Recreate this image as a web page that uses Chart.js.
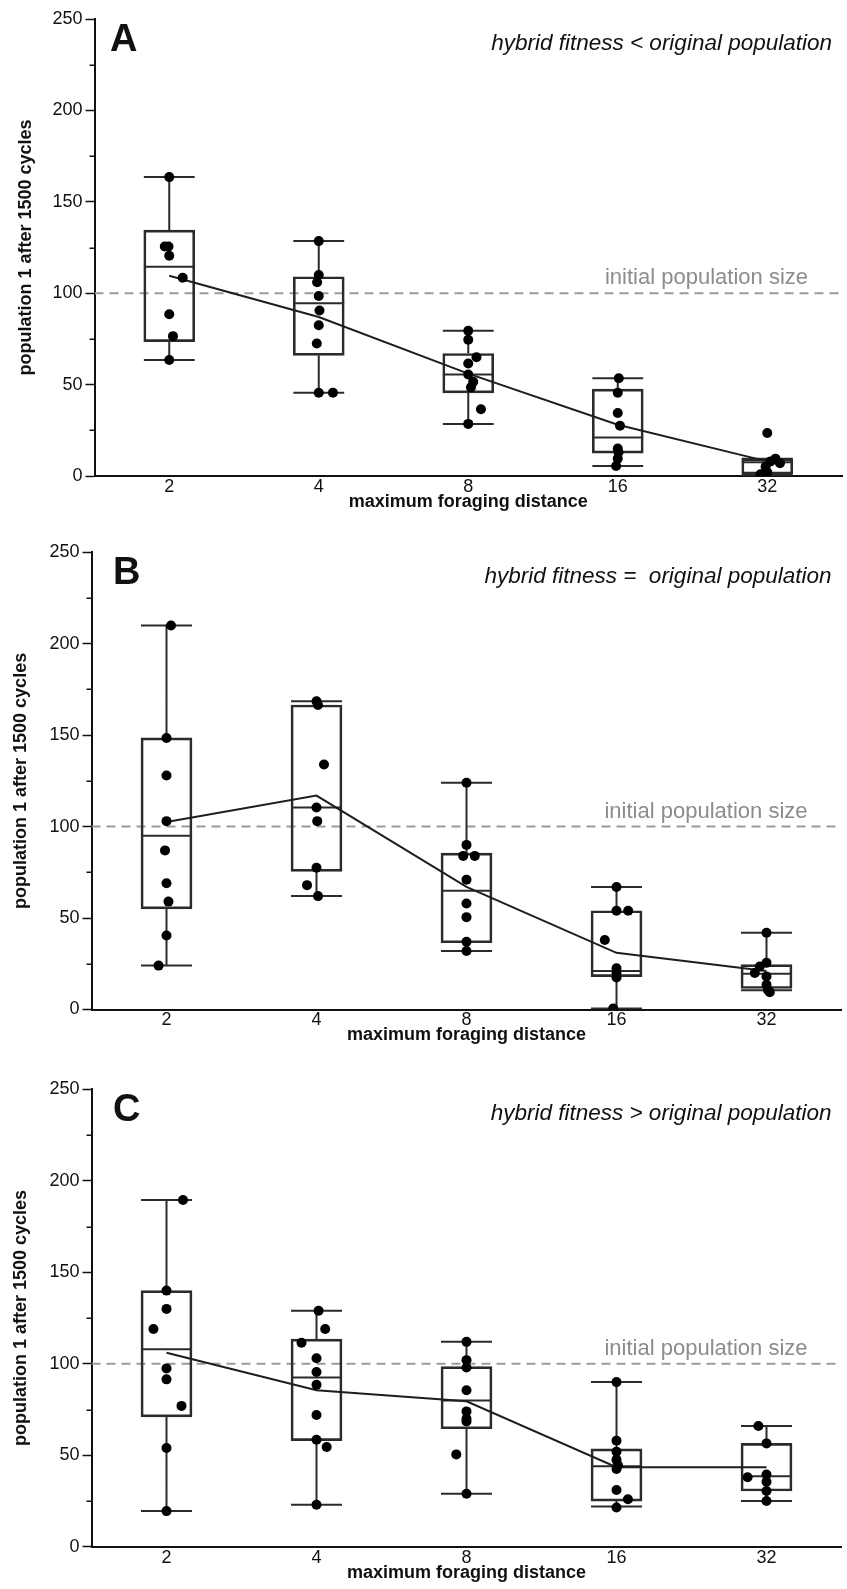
<!DOCTYPE html>
<html>
<head>
<meta charset="utf-8">
<title>Population 1 after 1500 cycles</title>
<script src="https://cdn.jsdelivr.net/npm/chart.js@4.4.1/dist/chart.umd.min.js"></script>
<style>
  html, body { margin: 0; padding: 0; background: #fff; }
  canvas { display: block; }
</style>
</head>
<body>
<canvas id="chartA" width="847" height="530"></canvas>
<canvas id="chartB" width="847" height="534"></canvas>
<canvas id="chartC" width="847" height="525"></canvas>
<script>
// ---- data ----
const distances = ['2', '4', '8', '16', '32'];
const yTickValues = [0, 25, 50, 75, 100, 125, 150, 175, 200, 225, 250];
const yLabelled = [0, 50, 100, 150, 200, 250];
const initialPopulation = 100;

// A: hybrid fitness < original population
const minA = [63.5, 45.5, 28.5, 5.5, 0.5];
const q1A = [73.5, 66, 45.5, 12.5, 1];
const medA = [114.5, 94.5, 55.5, 21, 7.5];
const q3A = [134.5, 109, 67, 47.5, 9.5];
const maxA = [163.5, 128.5, 79.5, 53.5, 9.5];
const meanA = [109.5, 87, 56, 28, 8];
const pointsA = [
  [163.5, 125.5, 125.5, 120.5, 108.5, 88.5, 76.5, 63.5],
  [128.5, 110, 106, 98.5, 90.5, 82.5, 72.5, 45.5, 45.5],
  [79.5, 74.5, 65, 61.5, 55.5, 51.5, 48.5, 36.5, 28.5],
  [53.5, 45.5, 34.5, 27.5, 15, 13, 9.5, 5.5],
  [23.5, 9.5, 8, 7, 5, 2, 1]
];
const jitterA = [
  [0, -0.03, -0.005, 0, 0.09, 0, 0.025, 0],
  [0, 0, -0.011, 0, 0.005, 0, -0.013, 0, 0.095],
  [0, 0, 0.055, 0, 0, 0.033, 0.018, 0.085, 0],
  [0.007, 0, 0, 0.015, 0, 0.005, 0, -0.011],
  [0, 0.055, 0.022, 0.085, -0.011, 0, -0.045]
];

// B: hybrid fitness = original population
const minB = [24, 62, 32, 0.5, 10.5];
const q1B = [55, 75.5, 36.5, 18, 11.5];
const medB = [95, 110.5, 65, 21, 19.5];
const q3B = [148.5, 166.5, 85.5, 54, 24.5];
const maxB = [210, 168.5, 124, 67, 42];
const meanB = [102.5, 117, 67, 31, 21];
const pointsB = [
  [210, 148.5, 128, 103, 87, 69, 59, 40.5, 24],
  [168.5, 166.5, 134, 110.5, 103, 77.5, 68, 62],
  [124, 90, 84, 84, 71, 58, 50.5, 37, 32],
  [67, 54, 54, 38, 22.5, 20, 17.5, 0.5],
  [42, 25.5, 23.5, 20, 18, 13.5, 10.5, 9.5]
];
const jitterB = [
  [0.03, 0, 0, 0, -0.01, 0, 0.013, 0, -0.053],
  [0, 0.01, 0.05, 0, 0.005, 0, -0.063, 0.01],
  [0, 0, -0.022, 0.055, 0, 0, 0, 0, 0],
  [0, 0, 0.078, -0.078, 0, 0, 0, -0.022],
  [0, 0, -0.045, -0.078, 0, 0, 0.01, 0.022]
];

// C: hybrid fitness > original population
const minC = [19.5, 23, 29, 22, 25];
const q1C = [71, 58, 64.5, 25, 30.5];
const medC = [108, 92.5, 80, 44, 38.5];
const q3C = [140, 113.5, 98.5, 53.5, 56.5];
const maxC = [189.5, 129, 112, 90, 66];
const meanC = [106, 85.5, 79.5, 43.5, 43.5];
const pointsC = [
  [189.5, 140, 130, 119, 97.5, 91.5, 77, 54, 19.5],
  [129, 119, 111.5, 103, 95.5, 88.5, 72, 58.5, 54.5, 23],
  [112, 102, 98, 85.5, 74, 70, 68.5, 50.5, 29],
  [90, 58, 52, 47.5, 44.5, 42.5, 31, 26, 21.5],
  [66, 56.5, 39.5, 38, 35.5, 30.5, 25]
];
const jitterC = [
  [0.11, 0, 0, -0.087, 0, 0, 0.1, 0, 0],
  [0.014, 0.058, -0.1, 0, 0, 0, 0, 0, 0.068, 0],
  [0, 0, 0, 0, 0, 0, 0, -0.068, 0],
  [0, 0, 0, 0, 0.01, 0, 0, 0.076, 0],
  [-0.054, 0, 0, -0.126, 0, 0, 0]
];

// ---- drawing ----
const FONT = '"Liberation Sans", Arial, Helvetica, sans-serif';
const INK = '#111';
const BOX = '#2b2b2b';
const capHalf = 0.17;   // half box width, in category units

const panelText = {
  id: 'panelText',
  beforeDatasetsDraw(chart, args, opts) {
    const { ctx, chartArea, scales } = chart;
    ctx.save();
    ctx.fillStyle = '#8c8c8c';
    ctx.font = '22px ' + FONT;
    ctx.textAlign = 'right';
    ctx.fillText('initial population size', chartArea.right - 34, scales.y.getPixelForValue(initialPopulation) - 9);
    ctx.restore();
  },
  afterDraw(chart, args, opts) {
    const { ctx, chartArea, scales } = chart;
    ctx.save();
    // short minor ticks between the labelled ones
    ctx.strokeStyle = INK;
    ctx.lineWidth = 1.5;
    ctx.beginPath();
    yTickValues.filter(v => !yLabelled.includes(v)).forEach(v => {
      const py = Math.round(scales.y.getPixelForValue(v)) + 0.25;
      ctx.moveTo(chartArea.left - 5, py);
      ctx.lineTo(chartArea.left, py);
    });
    ctx.stroke();

    ctx.fillStyle = INK;
    ctx.font = 'bold 38px ' + FONT;
    ctx.textAlign = 'left';
    ctx.fillText(opts.letter, chartArea.left + opts.letterX, chartArea.top + 32);
    ctx.font = 'italic 22.5px ' + FONT;
    ctx.textAlign = 'right';
    ctx.fillText(opts.note, chartArea.right - 10, chartArea.top + 31);
    ctx.restore();
  }
};

function makePanel(id, lay, mins, q1s, meds, q3s, maxs, means, points, jitter, letter, note) {
  const gap = i => ({ x: i, y: null });
  const whiskers = [];
  mins.forEach((lo, i) => {
    whiskers.push({ x: i - capHalf, y: maxs[i] }, { x: i + capHalf, y: maxs[i] }, gap(i));
    whiskers.push({ x: i, y: maxs[i] }, { x: i, y: q3s[i] }, gap(i));
    whiskers.push({ x: i, y: q1s[i] }, { x: i, y: lo }, gap(i));
    whiskers.push({ x: i - capHalf, y: lo }, { x: i + capHalf, y: lo }, gap(i));
    whiskers.push({ x: i - capHalf, y: meds[i] }, { x: i + capHalf, y: meds[i] }, gap(i));
  });
  const dots = points.flatMap((vals, i) => vals.map((v, k) => ({ x: i + jitter[i][k], y: v })));

  const datasets = [
    {
      type: 'scatter', label: 'runs', data: dots,
      pointRadius: 5, pointBackgroundColor: '#000', pointBorderWidth: 0
    },
    {
      type: 'line', label: 'mean', data: means.map((m, i) => ({ x: i, y: m })),
      borderColor: '#1e1e1e', borderWidth: 2, pointRadius: 0, tension: 0
    },
    {
      type: 'line', label: 'whiskers', data: whiskers,
      borderColor: BOX, borderWidth: 2, pointRadius: 0, spanGaps: false
    },
    {
      type: 'bar', label: 'box', data: q1s.map((q1, i) => ({ x: i, y: [q1, q3s[i]] })),
      backgroundColor: 'rgba(0,0,0,0)', borderColor: BOX, borderWidth: 2,
      borderSkipped: false, barThickness: 51
    },
    {
      type: 'line', label: 'initial', data: [{ x: -0.5, y: initialPopulation }, { x: 4.5, y: initialPopulation }],
      borderColor: '#9a9a9a', borderWidth: 2, borderDash: [9, 6], pointRadius: 0
    }
  ];

  return new Chart(document.getElementById(id), {
    type: 'scatter',
    data: { datasets },
    options: {
      responsive: false,
      animation: false,
      events: [],
      layout: { padding: { top: lay.top, right: 847 - lay.right, left: 0, bottom: 0 } },
      plugins: {
        legend: { display: false },
        tooltip: { enabled: false },
        panelText: { letter, note, letterX: lay.letterX }
      },
      scales: {
        x: {
          type: 'linear', min: -0.5, max: 4.5, offset: false,
          afterBuildTicks: s => { s.ticks = distances.map((d, i) => ({ value: i })); },
          afterFit: s => { s.height = lay.height - lay.bottom; },
          ticks: {
            callback: v => distances[v], color: INK, padding: 0,
            maxRotation: 0, autoSkip: false, font: { family: FONT, size: 18 }
          },
          grid: { display: false, drawTicks: false },
          border: { display: true, color: INK, width: 2 },
          title: {
            display: true, text: 'maximum foraging distance', color: INK,
            font: { family: FONT, size: 18, weight: 'bold' },
            padding: { top: 0, bottom: lay.height - lay.bottom - 26 - 10.8 }
          }
        },
        y: {
          type: 'linear', min: 0, max: 250,
          afterBuildTicks: s => { s.ticks = yTickValues.map(v => ({ value: v })); },
          afterFit: s => { s.width = lay.left; },
          ticks: {
            callback: v => (yLabelled.includes(v) ? String(v) : ''),
            color: INK, padding: 3, autoSkip: false, font: { family: FONT, size: 18 }
          },
          grid: {
            display: true, drawOnChartArea: false, drawTicks: true, tickLength: 9, tickWidth: 1.5,
            tickColor: c => (yLabelled.includes(c.tick.value) ? INK : 'rgba(0,0,0,0)')
          },
          border: { display: true, color: INK, width: 2 },
          title: {
            display: true, text: 'population 1 after 1500 cycles', color: INK,
            font: { family: FONT, size: 18, weight: 'bold' },
            padding: { top: lay.titleX - 10.8, bottom: 0 }
          }
        }
      }
    },
    plugins: [panelText]
  });
}

makePanel('chartA', { height: 530, top: 19, bottom: 476, left: 94.5, right: 844.5, titleX: 25.8, letterX: 15.5 },
  minA, q1A, medA, q3A, maxA, meanA, pointsA, jitterA, 'A', 'hybrid fitness < original population');
makePanel('chartB', { height: 534, top: 22.3, bottom: 479.5, left: 91.5, right: 841.5, titleX: 21, letterX: 21.5 },
  minB, q1B, medB, q3B, maxB, meanB, pointsB, jitterB, 'B', 'hybrid fitness =  original population');
makePanel('chartC', { height: 525, top: 25.3, bottom: 482.8, left: 91.5, right: 841.5, titleX: 21, letterX: 21.5 },
  minC, q1C, medC, q3C, maxC, meanC, pointsC, jitterC, 'C', 'hybrid fitness > original population');
</script>
</body>
</html>
